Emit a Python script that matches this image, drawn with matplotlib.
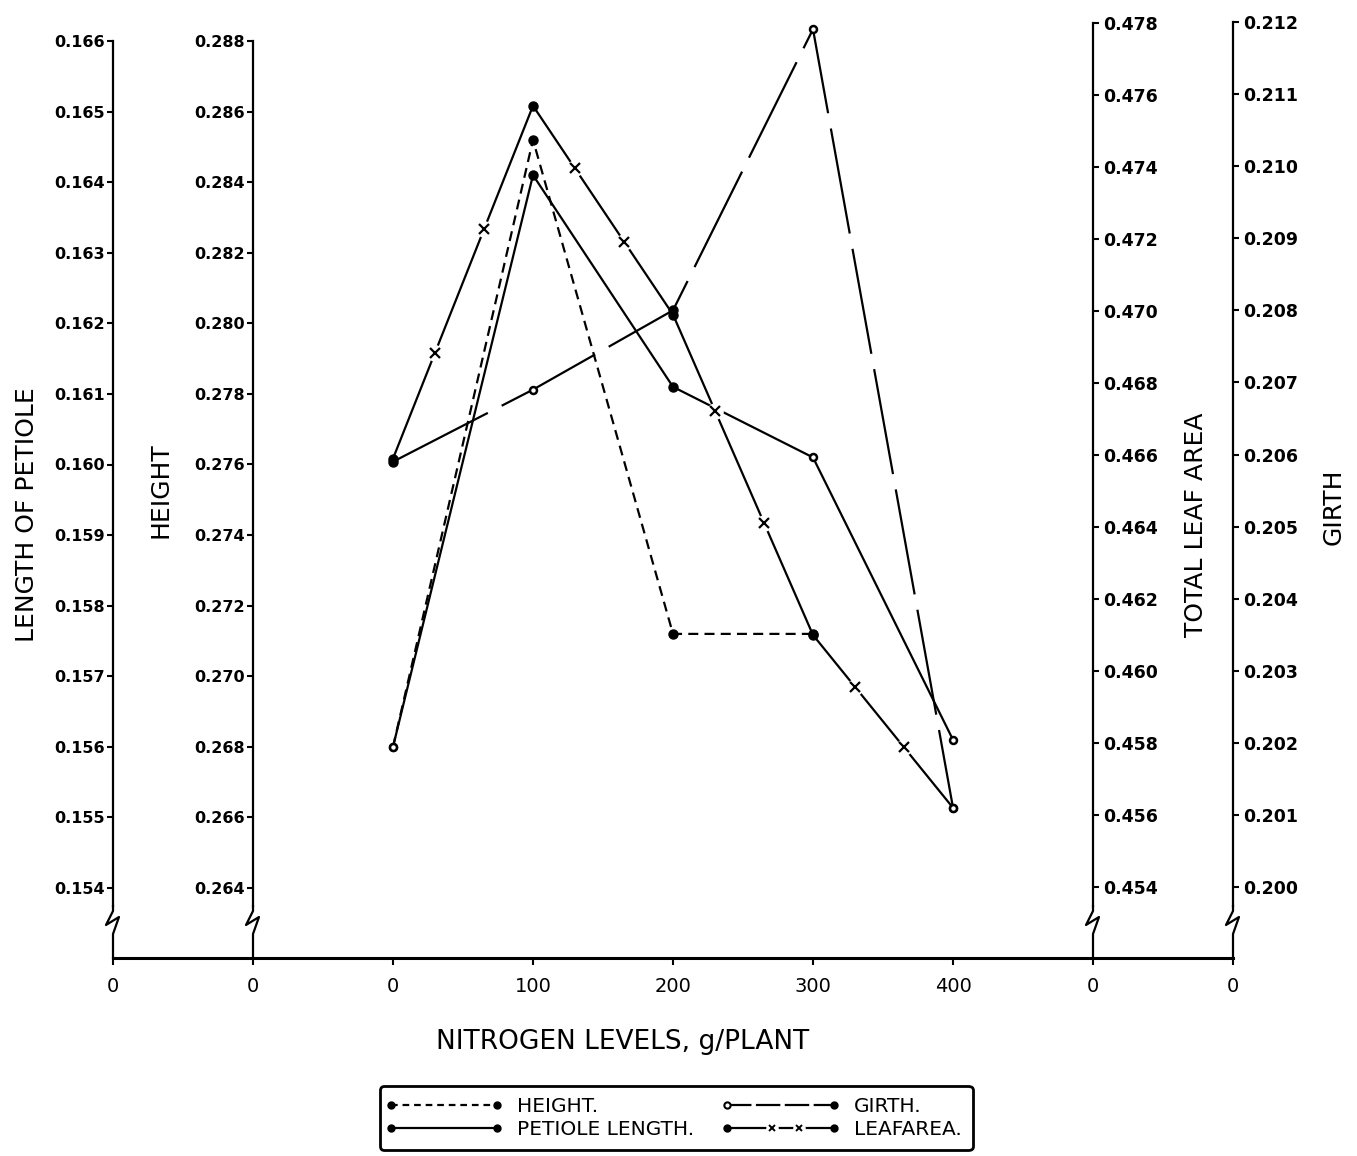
import numpy as np
import matplotlib
matplotlib.use('Agg')
import matplotlib.pyplot as plt
from matplotlib.lines import Line2D
from matplotlib.legend_handler import HandlerBase
from matplotlib.ticker import FormatStrFormatter

plt.rcParams['font.family'] = 'DejaVu Sans'

# data
nitrogen = [0, 100, 200, 300, 400]
height = [0.2680, 0.2852, 0.2712, 0.2712, np.nan]
petiole = [0.1560, 0.1641, 0.1611, 0.1601, 0.1561]
girth = [0.2059, 0.2069, 0.2080, 0.2119, 0.2011]
leaf_area = [0.4659, 0.4757, 0.4699, 0.4610, 0.4562]

x_ticks = [-200, -100, 0, 100, 200, 300, 400, 500, 600]
x_ticklabels = ['0', '0', '0', '100', '200', '300', '400', '0', '0']
petiole_ticks = [0.154, 0.155, 0.156, 0.157, 0.158, 0.159, 0.160,
                 0.161, 0.162, 0.163, 0.164, 0.165, 0.166]
height_ticks = [0.264, 0.266, 0.268, 0.270, 0.272, 0.274, 0.276,
                0.278, 0.280, 0.282, 0.284, 0.286, 0.288]
leaf_ticks = [0.454, 0.456, 0.458, 0.460, 0.462, 0.464, 0.466,
              0.468, 0.470, 0.472, 0.474, 0.476, 0.478]
girth_ticks = [0.200, 0.201, 0.202, 0.203, 0.204, 0.205, 0.206,
               0.207, 0.208, 0.209, 0.210, 0.211, 0.212]

# which points are drawn as small open rings
height_open = [True, False, False, False, False]
petiole_open = [True, False, False, True, True]
girth_open = [False, True, False, True, True]
leaf_open = [False, False, False, False, True]

# layout in pixels (figure is 1357 x 1156)
W_PX, H_PX = 1357, 1156
AX_L, AX_R, AX_T, AX_B = 113, 1233, 15, 958
AX_W, AX_H = AX_R - AX_L, AX_B - AX_T
XMIN, XMAX = -200, 600
BREAK_TOP = 906


def limits(v_top, px_top, v_bot, px_bot):
    per_px = (v_top - v_bot) / (px_bot - px_top)
    return v_bot - (AX_B - px_bot) * per_px, v_top + (px_top - AX_T) * per_px


def px_value(lims, px):
    lo, hi = lims
    return lo + (AX_B - px) / AX_H * (hi - lo)


def draw_series(a, y, ls, open_pts, lw=1.6):
    x = np.array(nitrogen, float)
    y = np.array(y, float)
    op = np.array(open_pts)
    a.plot(x, y, color='black', lw=lw, ls=ls, zorder=3)
    a.plot(x[~op], y[~op], ls='none', marker='o', ms=6.5, color='black', zorder=5)
    a.plot(x[op], y[op], ls='none', marker='o', ms=5, mfc='white', mec='black',
           mew=1.8, zorder=5)


def draw_break(a, xval):
    sx = AX_L + (xval - XMIN) / (XMAX - XMIN) * AX_W
    pts = [(0, BREAK_TOP), (0, 911), (-7, 925), (6, 917), (0, 934), (0, AX_B)]
    xs = [(sx + dx - AX_L) / AX_W for dx, _ in pts]
    ys = [(AX_B - py) / AX_H for _, py in pts]
    a.plot(xs, ys, color='black', lw=1.6, transform=a.transAxes, clip_on=False)


class EndDots(HandlerBase):
    def __init__(self, left_open=False, crosses=False):
        super().__init__()
        self.left_open = left_open
        self.crosses = crosses

    def create_artists(self, legend, orig_handle, xdescent, ydescent,
                       width, height, fontsize, trans):
        y = (height - ydescent) / 2
        x0, x1 = -xdescent, width - xdescent
        line = Line2D([x0, x1], [y, y])
        self.update_prop(line, orig_handle, legend)
        arts = [line]
        arts.append(Line2D([x0], [y], ls='none', marker='o', ms=4.5,
                           mfc='white' if self.left_open else 'black', mec='black', mew=1.5))
        arts.append(Line2D([x1], [y], ls='none', marker='o', ms=5, color='black'))
        if self.crosses:
            xc = [x0 + 0.42 * (x1 - x0), x0 + 0.68 * (x1 - x0)]
            arts.append(Line2D(xc, [y, y], ls='none', marker='o', ms=8, mfc='white', mec='white'))
            arts.append(Line2D(xc, [y, y], ls='none', marker='x', ms=5, mew=1.4, color='black'))
        for art in arts:
            art.set_transform(trans)
        return arts


fig = plt.figure(figsize=(W_PX / 100, H_PX / 100), dpi=100)
ax = fig.add_axes([AX_L / W_PX, 1 - AX_B / H_PX, AX_W / W_PX, AX_H / H_PX])
ax_h = ax.twinx()
ax_l = ax.twinx()
ax_g = ax.twinx()

pet_lim = limits(0.166, 41, 0.154, 888)
hgt_lim = limits(0.288, 41, 0.264, 888)
leaf_lim = limits(0.478, 23, 0.454, 887)
gir_lim = limits(0.212, 22, 0.200, 887)

ax.set_xlim(XMIN, XMAX)
ax.set_ylim(*pet_lim)
ax_h.set_ylim(*hgt_lim)
ax_l.set_ylim(*leaf_lim)
ax_g.set_ylim(*gir_lim)

for a in (ax, ax_h, ax_l, ax_g):
    for s in a.spines.values():
        s.set_visible(False)
        s.set_linewidth(1.6)
    a.patch.set_visible(False)

# left axes: petiole and height
ax.spines['left'].set_visible(True)
ax.spines['left'].set_bounds(px_value(pet_lim, BREAK_TOP), 0.166)
ax.spines['bottom'].set_visible(True)
ax.spines['bottom'].set_linewidth(2.2)

ax_h.yaxis.tick_left()
ax_h.yaxis.set_label_position('left')
ax_h.spines['left'].set_visible(True)
ax_h.spines['left'].set_position(('data', -100))
ax_h.spines['left'].set_bounds(px_value(hgt_lim, BREAK_TOP), 0.288)

# right axes: leaf area and girth
ax_l.spines['right'].set_visible(True)
ax_l.spines['right'].set_position(('data', 500))
ax_l.spines['right'].set_bounds(px_value(leaf_lim, BREAK_TOP), 0.478)
ax_g.spines['right'].set_visible(True)
ax_g.spines['right'].set_bounds(px_value(gir_lim, BREAK_TOP), 0.212)

ax.set_yticks(petiole_ticks)
ax_h.set_yticks(height_ticks)
ax_l.set_yticks(leaf_ticks)
ax_g.set_yticks(girth_ticks)
for a in (ax, ax_h, ax_l, ax_g):
    a.yaxis.set_major_formatter(FormatStrFormatter('%.3f'))
    a.tick_params(axis='y', direction='out', length=4, width=1.5, pad=2,
                  labelsize=11.5)
    for lab in a.get_yticklabels():
        lab.set_fontweight('bold')
        lab.set_va('center_baseline')
for a in (ax_l, ax_g):
    a.tick_params(axis='y', labelsize=12.5, pad=3)

ax.set_xticks(x_ticks)
ax.set_xticklabels(x_ticklabels)
ax.tick_params(axis='x', direction='out', length=5, width=1.5, pad=9, labelsize=14)

for xv in (-200, -100, 500, 600):
    draw_break(ax, xv)

# series
draw_series(ax_h, height, (0, (4.5, 2.8)), height_open)
draw_series(ax, petiole, '-', petiole_open)
draw_series(ax_g, girth, (0, (48, 7)), girth_open)
draw_series(ax_l, leaf_area, '-', leaf_open)

# crosses along the leaf area line
xs = np.array(nitrogen, float)
ys = np.array(leaf_area, float)
for t in (0.3, 0.65):
    xc = xs[:-1] + t * np.diff(xs)
    yc = ys[:-1] + t * np.diff(ys)
    ax_l.plot(xc, yc, ls='none', marker='o', ms=11, mfc='white', mec='white', zorder=4)
    ax_l.plot(xc, yc, ls='none', marker='x', ms=6.5, mew=1.6, color='black', zorder=5)

# axis labels
ax.set_ylabel('LENGTH OF PETIOLE', fontsize=18, va='center')
ax.yaxis.set_label_coords((27 - AX_L) / AX_W, (AX_B - 515) / AX_H)
ax_h.set_ylabel('HEIGHT', fontsize=18, va='center')
ax_h.yaxis.set_label_coords((161 - AX_L) / AX_W, (AX_B - 490) / AX_H)
ax_l.set_ylabel('TOTAL LEAF AREA', fontsize=18, va='center', rotation=90)
ax_l.yaxis.set_label_coords((1196 - AX_L) / AX_W, (AX_B - 525) / AX_H)
ax_g.set_ylabel('GIRTH', fontsize=18, va='center', rotation=90)
ax_g.yaxis.set_label_coords((1334 - AX_L) / AX_W, (AX_B - 507) / AX_H)
ax.set_xlabel('NITROGEN LEVELS, g/PLANT', fontsize=19, va='center')
ax.xaxis.set_label_coords((623 - AX_L) / AX_W, (AX_B - 1042) / AX_H)

# legend
h_height = Line2D([], [], color='black', lw=1.6, ls=(0, (3, 2.2)))
h_pet = Line2D([], [], color='black', lw=1.6, ls='-')
h_girth = Line2D([], [], color='black', lw=1.6, ls=(0, (11, 2)))
h_leaf = Line2D([], [], color='black', lw=1.6, ls='-')
leg = ax_g.legend([h_height, h_pet, h_girth, h_leaf],
                  ['HEIGHT.', 'PETIOLE LENGTH.', 'GIRTH.', 'LEAFAREA.'],
                  handler_map={h_height: EndDots(), h_pet: EndDots(),
                               h_girth: EndDots(left_open=True),
                               h_leaf: EndDots(crosses=True)},
                  ncol=2, loc='center',
                  bbox_to_anchor=((676 - AX_L) / AX_W, (AX_B - 1118) / AX_H),
                  fontsize=14.5, handlelength=5.3, handletextpad=1.0,
                  columnspacing=1.6, labelspacing=0.2, borderpad=0.55,
                  frameon=True, fancybox=True, framealpha=1)
leg.get_frame().set_edgecolor('black')
leg.get_frame().set_linewidth(2)

fig.savefig('out.png', dpi=100)
